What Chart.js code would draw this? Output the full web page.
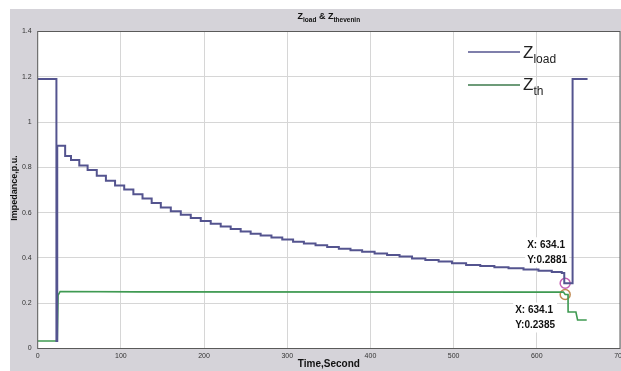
<!DOCTYPE html>
<html lang="en">
  <head>
    <meta charset="UTF-8" />
    <title>Zload & Zthevenin</title>
    <style>
      html, body { margin: 0; padding: 0; background: #fff; }
      #wrap { width: 621px; height: 371px; }
    </style>
  </head>
  <body>
    <div id="wrap"><canvas id="chart" width="621" height="371"></canvas></div>
    <script src="https://cdn.jsdelivr.net/npm/chart.js@4.4.0/dist/chart.umd.min.js"></script>
    <script>
      // Zload (stepped, each value starts at its time)
      const loadTime = [0, 22.5, 23.5, 33, 40, 50, 60, 71, 82, 93, 104, 115, 126, 137, 148, 160, 172, 184,
        196, 208, 220, 232, 244, 256, 268, 281, 294, 307, 320, 334, 348, 362, 376, 390, 405, 420, 435,
        450, 466, 482, 498, 515, 532, 549, 566, 584, 602, 618, 630, 633, 643, 661];
      const loadImpedance = [1.19, 0.033, 0.895, 0.85, 0.832, 0.808, 0.788, 0.763, 0.741, 0.72, 0.702,
        0.681, 0.662, 0.643, 0.623, 0.606, 0.591, 0.576, 0.563, 0.551, 0.539, 0.528, 0.517, 0.507, 0.499,
        0.49, 0.481, 0.472, 0.464, 0.456, 0.448, 0.441, 0.434, 0.427, 0.42, 0.413, 0.406, 0.398, 0.391,
        0.384, 0.376, 0.369, 0.364, 0.359, 0.354, 0.349, 0.343, 0.338, 0.333, 0.2881, 1.19, 1.19];

      // Zth
      const thTime = [0, 23.5, 24.5, 27, 120, 632, 634.1, 637.5, 637.6, 647, 649, 660];
      const thImpedance = [0.033, 0.033, 0.235, 0.252, 0.25, 0.249, 0.2385, 0.2385, 0.161, 0.161, 0.126, 0.126];

      // data tips
      const tipTime = 634.1;
      const tipLoad = 0.2881;
      const tipTh = 0.2385;

      const timeTicks = [0, 100, 200, 300, 400, 500, 600, 700];
      const impTicks = [0, 0.2, 0.4, 0.6, 0.8, 1, 1.2, 1.4];

      const blue = "#54548f";
      const green = "#3f9a52";
      const FONT = "'Liberation Sans', Arial, sans-serif";

      function pts(xs, ys) {
        return xs.map((x, i) => ({ x: x, y: ys[i] }));
      }

      // draw text made of [string, isSubscript] parts
      function subText(ctx, parts, x, y, size, subSize, weight, align) {
        let w = 0;
        parts.forEach(function (p) {
          ctx.font = weight + " " + (p[1] ? subSize : size) + "px " + FONT;
          w += ctx.measureText(p[0]).width;
        });
        let cx = align === "center" ? x - w / 2 : x;
        ctx.textAlign = "left";
        ctx.textBaseline = "alphabetic";
        parts.forEach(function (p) {
          ctx.font = weight + " " + (p[1] ? subSize : size) + "px " + FONT;
          ctx.fillText(p[0], cx, p[1] ? y + size * 0.3 : y);
          cx += ctx.measureText(p[0]).width;
        });
      }

      function tipBox(ctx, lines, left, top) {
        ctx.font = "bold 10px " + FONT;
        const w = Math.max(...lines.map((l) => ctx.measureText(l).width));
        ctx.fillStyle = "#fff";
        ctx.fillRect(left - 2, top - 1, w + 4, 30);
        ctx.fillStyle = "#111";
        ctx.textAlign = "left";
        ctx.textBaseline = "middle";
        lines.forEach(function (l, i) {
          ctx.fillText(l, left, top + 7 + i * 15);
        });
      }

      const decor = {
        id: "decor",
        beforeDraw(chart) {
          const { ctx, chartArea: a, width, height } = chart;
          ctx.save();
          ctx.fillStyle = "#fff";
          ctx.fillRect(0, 0, width, height);
          ctx.fillStyle = "#d5d3d9";
          ctx.fillRect(10, 9, width - 10, height - 9);
          ctx.fillStyle = "#fff";
          ctx.fillRect(a.left, a.top, a.right - a.left, a.bottom - a.top);
          ctx.restore();
        },
        afterDatasetsDraw(chart) {
          const { ctx, chartArea: a, scales } = chart;
          ctx.save();
          ctx.strokeStyle = "#5a5a5a";
          ctx.lineWidth = 1;
          ctx.strokeRect(a.left, a.top, a.right - a.left, a.bottom - a.top);

          // legend
          ctx.lineWidth = 1.6;
          ctx.strokeStyle = blue;
          ctx.beginPath(); ctx.moveTo(468, 52); ctx.lineTo(520, 52); ctx.stroke();
          ctx.strokeStyle = "#3d7a4c";
          ctx.beginPath(); ctx.moveTo(468, 85); ctx.lineTo(520, 85); ctx.stroke();
          ctx.fillStyle = "#222";
          subText(ctx, [["Z", false], ["load", true]], 523, 58, 17, 12, "normal", "left");
          subText(ctx, [["Z", false], ["th", true]], 523, 90, 17, 12, "normal", "left");

          // data tips
          const px = scales.x.getPixelForValue(tipTime);
          const p1 = scales.y.getPixelForValue(tipLoad);
          const p2 = scales.y.getPixelForValue(tipTh);
          tipBox(ctx, ["X: " + tipTime, "Y:" + tipLoad], px - 38, p1 - 45);
          tipBox(ctx, ["X: " + tipTime, "Y:" + tipTh], px - 50, p2 + 9);

          // title and axis titles
          ctx.fillStyle = "#111";
          subText(ctx, [["Z", false], ["load", true], [" & Z", false], ["thevenin", true]],
            (a.left + a.right) / 2, 19, 9, 6.5, "bold", "center");
          ctx.font = "bold 10px " + FONT;
          ctx.textAlign = "center";
          ctx.textBaseline = "middle";
          ctx.fillText("Time,Second", (a.left + a.right) / 2, 364);
          ctx.translate(15, 188);
          ctx.rotate(-Math.PI / 2);
          ctx.font = "bold 9px " + FONT;
          ctx.fillText("Impedance,p.u.", 0, 0);
          ctx.restore();
        },
      };

      const grid = { color: "#d6d6d6", lineWidth: 1, drawTicks: false };

      new Chart(document.getElementById("chart"), {
        type: "line",
        data: {
          datasets: [
            {
              label: "Zload",
              data: pts(loadTime, loadImpedance),
              borderColor: blue,
              borderWidth: 2,
              stepped: "before",
              pointRadius: 0,
              fill: false,
            },
            {
              label: "Zth",
              data: pts(thTime, thImpedance),
              borderColor: green,
              borderWidth: 1.6,
              pointRadius: 0,
              tension: 0,
              fill: false,
            },
            {
              label: "tipLoad",
              data: [{ x: tipTime, y: tipLoad }],
              showLine: false,
              pointRadius: 5,
              pointBorderWidth: 1.5,
              pointBorderColor: "#c45fb4",
              pointBackgroundColor: "rgba(0,0,0,0)",
            },
            {
              label: "tipTh",
              data: [{ x: tipTime, y: tipTh }],
              showLine: false,
              pointRadius: 5,
              pointBorderWidth: 1.5,
              pointBorderColor: "#c08a52",
              pointBackgroundColor: "rgba(0,0,0,0)",
            },
          ],
        },
        options: {
          responsive: false,
          animation: false,
          events: [],
          layout: { autoPadding: false, padding: { top: 31.5, right: 1, left: 0, bottom: 0 } },
          plugins: { legend: { display: false }, title: { display: false }, tooltip: { enabled: false } },
          scales: {
            x: {
              type: "linear",
              min: 0,
              max: 700,
              grid: grid,
              border: { display: false },
              afterBuildTicks: (s) => { s.ticks = timeTicks.map((v) => ({ value: v })); },
              afterFit: (s) => { s.height = 22.5; s.paddingLeft = 0; s.paddingRight = 0; },
              ticks: { color: "#333", font: { size: 7, family: FONT }, padding: 3, maxRotation: 0 },
            },
            y: {
              min: 0,
              max: 1.4,
              grid: grid,
              border: { display: false },
              afterBuildTicks: (s) => { s.ticks = impTicks.map((v) => ({ value: v })); },
              afterFit: (s) => { s.width = 37.7; s.paddingTop = 0; s.paddingBottom = 0; },
              ticks: {
                color: "#333",
                font: { size: 7, family: FONT },
                padding: 6,
                callback: (v) => String(+(+v).toFixed(1)),
              },
            },
          },
        },
        plugins: [decor],
      });
    </script>
  </body>
</html>
